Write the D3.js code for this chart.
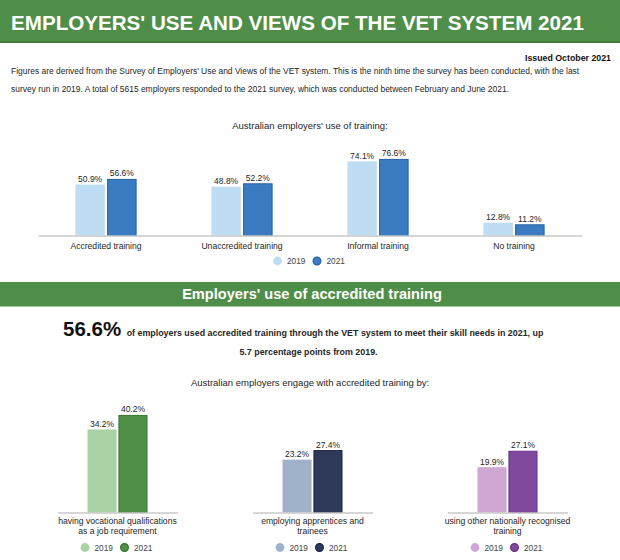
<!DOCTYPE html>
<html><head><meta charset="utf-8">
<script src="https://cdn.jsdelivr.net/npm/d3@7"></script>
<style>
html,body{margin:0;padding:0;background:#fff;}
svg{display:block;font-family:"Liberation Sans",Arial,sans-serif;}
</style></head>
<body><svg id="c" width="620" height="560"></svg>
<script>
// ---- data ----
const titleText = "EMPLOYERS' USE AND VIEWS OF THE VET SYSTEM 2021";
const issuedText = "Issued October 2021";
const introLines = [
  "Figures are derived from the Survey of Employers' Use and Views of the VET system. This is the ninth time the survey has been conducted, with the last",
  "survey run in 2019. A total of 5615 employers responded to the 2021 survey, which was conducted between February and June 2021."
];
const chart1Title = "Australian employers' use of training:";
const years = ["2019", "2021"];
const categories1 = ["Accredited training", "Unaccredited training", "Informal training", "No training"];
const use2019 = [50.9, 48.8, 74.1, 12.8];
const use2021 = [56.6, 52.2, 76.6, 11.2];

const section2Title = "Employers' use of accredited training";
const headlineValue = "56.6%";
const headlineRest = "of employers used accredited training through the VET system to meet their skill needs in 2021, up";
const headlineLine2 = "5.7 percentage points from 2019.";
const chart2Title = "Australian employers engage with accredited training by:";
const categories2 = ["having vocational qualifications as a job requirement", "employing apprentices and trainees", "using other nationally recognised training"];
const categoryLines2 = [["having vocational qualifications", "as a job requirement"], ["employing apprentices and", "trainees"], ["using other nationally recognised", "training"]];
const acc2019 = [34.2, 23.2, 19.9];
const acc2021 = [40.2, 27.4, 27.1];

// ---- styles ----
const green = "#4f8e48";
const txt = "#262626";
const palette1 = {fill: ["#bedcf2", "#3b7bc1"], stroke: [null, "#25609f"]};
const palettes2 = [
  {fill: ["#a9d2a4", "#4f8f48"], stroke: [null, "#37772f"]},
  {fill: ["#9fb2c9", "#2f3959"], stroke: [null, "#1b2444"]},
  {fill: ["#cfa7d3", "#7f4a9e"], stroke: [null, "#663089"]}
];

const svg = d3.select("#c");
svg.append("rect").attr("width", 620).attr("height", 560).attr("fill", "#fff");

// ---- header banner ----
svg.append("rect").attr("x", 0).attr("y", 0).attr("width", 620).attr("height", 43).attr("fill", green);
svg.append("rect").attr("x", 0).attr("y", 41).attr("width", 620).attr("height", 2).attr("fill", "#417c3b");
svg.append("text").attr("x", 11).attr("y", 29.5).attr("fill", "#fff")
  .attr("font-size", 20.6).attr("font-weight", "bold")
  .text(titleText);

svg.append("text").attr("x", 611).attr("y", 60.5).attr("text-anchor", "end").attr("fill", "#111")
  .attr("font-size", 8.8).attr("font-weight", "bold").text(issuedText);
svg.selectAll("text.intro").data(introLines).join("text").attr("class", "intro")
  .attr("x", 11).attr("y", (d, i) => 73.5 + i * 18.5).attr("fill", txt).attr("font-size", 8.45).text(d => d);

// ---- chart 1 ----
svg.append("text").attr("x", 310).attr("y", 128.5).attr("text-anchor", "middle").attr("fill", txt)
  .attr("font-size", 9.5).text(chart1Title);

const base1 = 235.5;
const x0 = d3.scaleBand().domain(categories1).range([38, 582]).paddingInner(0.55).paddingOuter(0.275);
const x1 = d3.scaleBand().domain(years).range([0, x0.bandwidth()]).paddingInner(0.07);
const y1 = d3.scaleLinear().domain([0, 100]).range([base1, base1 - 100]);
const series1 = [use2019, use2021];

const g1 = svg.append("g");
categories1.forEach((c, i) => {
  years.forEach((yr, k) => {
    const v = series1[k][i];
    const bx = x0(c) + x1(yr);
    const st = palette1.stroke[k];
    g1.append("rect").attr("x", bx + (st ? 0.5 : 0)).attr("y", y1(v) + (st ? 0.5 : 0))
      .attr("width", x1.bandwidth() - (st ? 1 : 0)).attr("height", base1 - y1(v) - (st ? 0.5 : 0))
      .attr("fill", palette1.fill[k]).attr("stroke", st || "none").attr("stroke-width", 1);
    g1.append("text").attr("x", bx + x1.bandwidth() / 2).attr("y", y1(v) - 2.5).attr("text-anchor", "middle")
      .attr("fill", txt).attr("font-size", 8.5).text(v.toFixed(1) + "%");
  });
});
const ax1 = g1.append("g").attr("transform", `translate(0,${base1})`)
  .call(d3.axisBottom(x0).tickSize(0).tickPadding(7).tickSizeOuter(0));
ax1.select(".domain").attr("stroke", "#c9c9c9").attr("stroke-width", 1.5);
ax1.selectAll("text").attr("font-size", 8.6).attr("fill", txt).attr("font-family", "Liberation Sans, Arial, sans-serif");

function legend(cx, cy, pal) {
  const offs = [[-32.5, -23], [7, 16.5]];
  years.forEach((yr, k) => {
    svg.append("circle").attr("cx", cx + offs[k][0]).attr("cy", cy).attr("r", pal.stroke[k] ? 3.9 : 4.4)
      .attr("fill", pal.fill[k]).attr("stroke", pal.stroke[k] || "none").attr("stroke-width", 1.2);
    svg.append("text").attr("x", cx + offs[k][1]).attr("y", cy + 3).attr("fill", "#444")
      .attr("font-size", 8.3).text(yr);
  });
}
legend(310, 261, palette1);

// ---- section 2 banner ----
svg.append("rect").attr("x", 0).attr("y", 282).attr("width", 620).attr("height", 24.5).attr("fill", green);
svg.append("text").attr("x", 312).attr("y", 299).attr("text-anchor", "middle").attr("fill", "#fff")
  .attr("font-size", 14.6).attr("font-weight", "bold").text(section2Title);

const hl = svg.append("text").attr("x", 63).attr("y", 336).attr("fill", "#111").attr("font-weight", "bold");
hl.append("tspan").attr("font-size", 20.5).text(headlineValue);
hl.append("tspan").attr("dx", 5.5).attr("font-size", 8.9).attr("fill", txt).text(headlineRest);
svg.append("text").attr("x", 308.5).attr("y", 355).attr("text-anchor", "middle").attr("fill", txt)
  .attr("font-size", 8.9).attr("font-weight", "bold").text(headlineLine2);

svg.append("text").attr("x", 310).attr("y", 386).attr("text-anchor", "middle").attr("fill", txt)
  .attr("font-size", 9.5).text(chart2Title);

// ---- chart 2 ----
const base2 = 512.5;
const yMax2 = [41.2, 43.9, 43.9];
const xc = d3.scaleBand().domain(categories2).range([20, 605]);
const series2 = [acc2019, acc2021];
categories2.forEach((c, i) => {
  const cx = xc(c) + xc.bandwidth() / 2;
  const pal = palettes2[i];
  const y2 = d3.scaleLinear().domain([0, yMax2[i]]).range([base2, base2 - 100]);
  const xb = d3.scaleBand().domain(years).range([cx - 30, cx + 30]).paddingInner(0.06);
  const g = svg.append("g");
  years.forEach((yr, k) => {
    const v = series2[k][i];
    const st = pal.stroke[k];
    g.append("rect").attr("x", xb(yr) + (st ? 0.5 : 0)).attr("y", y2(v) + (st ? 0.5 : 0))
      .attr("width", xb.bandwidth() - (st ? 1 : 0)).attr("height", base2 - y2(v) - (st ? 0.5 : 0))
      .attr("fill", pal.fill[k]).attr("stroke", st || "none");
    g.append("text").attr("x", xb(yr) + xb.bandwidth() / 2).attr("y", y2(v) - 2.5).attr("text-anchor", "middle")
      .attr("fill", txt).attr("font-size", 8.5).text(v.toFixed(1) + "%");
  });
  const axs = d3.scaleLinear().domain([0, 1]).range([cx - 60, cx + 60]);
  const ax = g.append("g").attr("transform", `translate(0,${base2})`)
    .call(d3.axisBottom(axs).ticks(0).tickSize(0).tickSizeOuter(0));
  ax.selectAll(".tick").remove();
  ax.select(".domain").attr("stroke", "#c9c9c9").attr("stroke-width", 1.5);
  categoryLines2[i].forEach((ln, j) => {
    g.append("text").attr("x", cx).attr("y", 524 + j * 10).attr("text-anchor", "middle")
      .attr("fill", txt).attr("font-size", 8.6).text(ln);
  });
  legend(cx, 547.5, pal);
});
</script></body></html>
